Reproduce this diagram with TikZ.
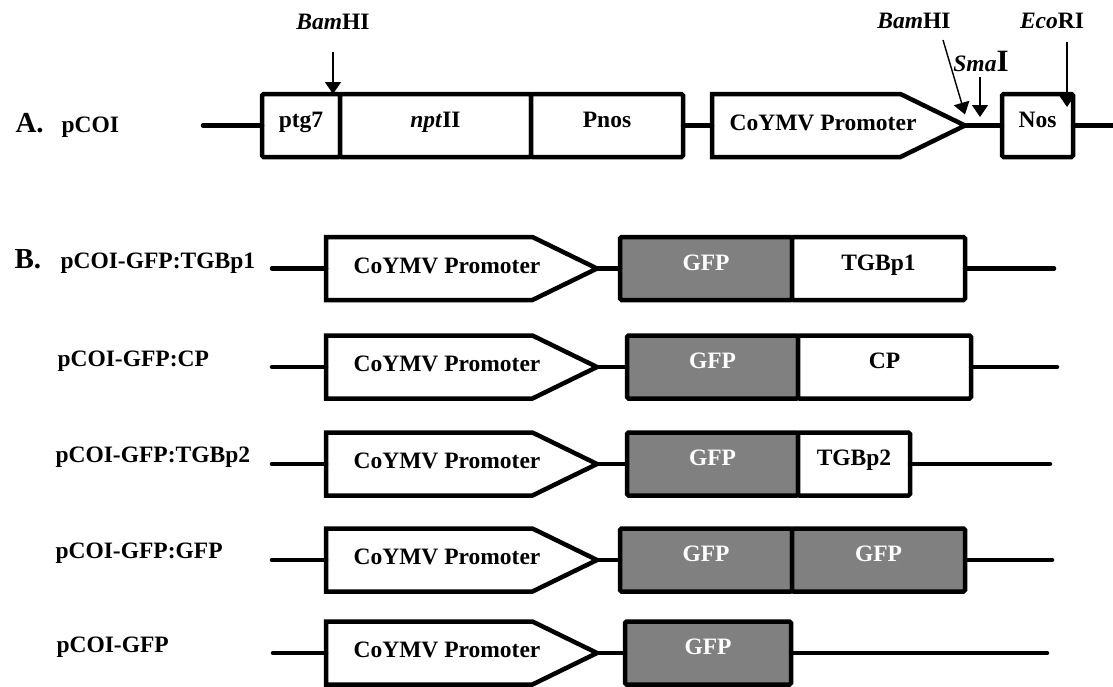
\documentclass[tikz,border=0pt]{standalone}
\usepackage{fontspec}
\setmainfont{Liberation Serif}
\usetikzlibrary{arrows.meta,shapes.symbols}

\begin{document}
\begin{tikzpicture}[x=1pt, y=-1pt,
        every node/.style={font=\fontsize{23.5}{26}\selectfont\bfseries},
        seg/.style={draw, line width=4.5pt, rounded corners=1.5pt,
                    inner sep=0pt, outer sep=0pt, minimum height=63pt,
                    text height=0.7em, text depth=0.4em, fill=#1},
        seg/.default=white,
        gfp/.style={seg=black!50, text=white},
        prom/.style={draw, line width=4.5pt, signal, signal to=east,
                     signal pointer angle=52, minimum height=63pt,
                     inner sep=0pt, outer sep=0pt, fill=white},
        ptext/.style={yshift=3pt},
        bb/.style={line width=4.5pt, line cap=round},
        cut/.style={line width=1.4pt, -{Triangle[length=12pt,width=16pt]}},
        plas/.style={anchor=base west},
        site/.style={anchor=base, inner sep=0pt},
    ]
    \useasboundingbox (0,0) rectangle (1113,686);

    % A. pCOI
    \node[plas, font=\fontsize{29}{30}\selectfont\bfseries] (labA) at (12,132) {A.};
    \node[plas] (nameA) at (58,132) {pCOI};
    \coordinate (a0) at (203,125.5);
    \node[seg, minimum width=78pt, anchor=west] (ptg) at (262,125.5) {ptg7};
    \node[seg, minimum width=191pt, anchor=west] (npt) at (ptg.east) {\textit{npt}II};
    \node[seg, minimum width=152pt, anchor=west] (pnos) at (npt.east) {Pnos};
    \node[prom, minimum width=253pt, anchor=west] (pA) at (712,125.5) {};
    \node[ptext] (pAt) at ([xshift=111pt]pA.west) {CoYMV Promoter};
    \node[seg, minimum width=71pt, anchor=west] (nos) at (1002,125.5) {Nos};
    \coordinate (a1) at (1113,125.5);
    \draw[bb] (a0) -- (ptg.west) (pnos.east) -- (pA.west)
              (pA.east) -- (nos.west) (nos.east) -- (a1);

    % restriction sites
    \node[site] (bam1) at (333,29) {\textit{Bam}HI};
    \node[site] (bam2) at (914,28) {\textit{Bam}HI};
    \node[site] (sma) at (981,71) {\textit{Sma}{\fontsize{31}{31}\selectfont I}};
    \node[site] (eco) at (1052,28) {\textit{Eco}RI};
    \coordinate (c1) at (333,52);
    \coordinate (c2) at (943,40);
    \coordinate (c3) at (980,77);
    \coordinate (c3e) at (980,117);
    \coordinate (c4) at (1067,42);
    \draw[cut] (c1) -- (ptg.north east -| c1);
    \draw[cut] (c2) -- ([yshift=11pt]pA.east);
    \draw[cut] (c3) -- (c3e);
    \draw[cut] (c4) -- ([xshift=-6pt,yshift=-13pt]nos.north east);

    % B. pCOI-GFP:TGBp1
    \node[plas, font=\fontsize{29}{30}\selectfont\bfseries] (labB) at (11,268) {B.};
    \node[plas] (name1) at (57,268) {pCOI-GFP:TGBp1};
    \coordinate (r1a) at (272,268.5);
    \node[prom, minimum width=271pt, anchor=west] (p1) at (326,268.5) {};
    \node[ptext] (p1t) at ([xshift=121pt]p1.west) {CoYMV Promoter};
    \node[gfp, minimum width=172pt, anchor=west] (g1) at (620,268.5) {GFP};
    \node[seg, minimum width=173pt, anchor=west] (t1) at (g1.east) {TGBp1};
    \coordinate (r1b) at (1054,268.5);
    \draw[bb] (r1a) -- (p1.west) (p1.east) -- (g1.west) (t1.east) -- (r1b);

    % pCOI-GFP:CP
    \node[plas] (name2) at (54,366) {pCOI-GFP:CP};
    \coordinate (r2a) at (272,367);
    \node[prom, minimum width=271pt, anchor=west] (p2) at (326,367) {};
    \node[ptext] (p2t) at ([xshift=121pt]p2.west) {CoYMV Promoter};
    \node[gfp, minimum width=171pt, anchor=west] (g2) at (627,367) {GFP};
    \node[seg, minimum width=173pt, anchor=west] (cp2) at (g2.east) {CP};
    \coordinate (r2b) at (1057,367);
    \draw[bb] (r2a) -- (p2.west) (p2.east) -- (g2.west) (cp2.east) -- (r2b);

    % pCOI-GFP:TGBp2
    \node[plas] (name3) at (52,462) {pCOI-GFP:TGBp2};
    \coordinate (r3a) at (272,464);
    \node[prom, minimum width=271pt, anchor=west] (p3) at (326,464) {};
    \node[ptext] (p3t) at ([xshift=121pt]p3.west) {CoYMV Promoter};
    \node[gfp, minimum width=171pt, anchor=west] (g3) at (627,464) {GFP};
    \node[seg, minimum width=112pt, anchor=west] (t3) at (g3.east) {TGBp2};
    \coordinate (r3b) at (1050,464);
    \draw[bb] (r3a) -- (p3.west) (p3.east) -- (g3.west) (t3.east) -- (r3b);

    % pCOI-GFP:GFP
    \node[plas] (name4) at (52,558) {pCOI-GFP:GFP};
    \coordinate (r4a) at (272,560);
    \node[prom, minimum width=271pt, anchor=west] (p4) at (326,560) {};
    \node[ptext] (p4t) at ([xshift=121pt]p4.west) {CoYMV Promoter};
    \node[gfp, minimum width=172pt, anchor=west] (g4) at (620,560) {GFP};
    \node[gfp, minimum width=173pt, anchor=west] (gg4) at (g4.east) {GFP};
    \coordinate (r4b) at (1052,560);
    \draw[bb] (r4a) -- (p4.west) (p4.east) -- (g4.west) (gg4.east) -- (r4b);

    % pCOI-GFP
    \node[plas] (name5) at (53,652) {pCOI-GFP};
    \coordinate (r5a) at (273,653);
    \node[prom, minimum width=271pt, anchor=west] (p5) at (326,653) {};
    \node[ptext] (p5t) at ([xshift=121pt]p5.west) {CoYMV Promoter};
    \node[gfp, minimum width=166pt, anchor=west] (g5) at (625,653) {GFP};
    \coordinate (r5b) at (1047,653);
    \draw[bb] (r5a) -- (p5.west) (p5.east) -- (g5.west) (g5.east) -- (r5b);
\end{tikzpicture}
\end{document}
